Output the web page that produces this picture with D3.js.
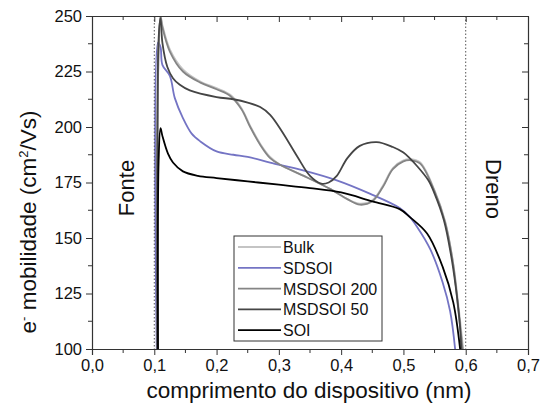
<!DOCTYPE html>
<html>
<head>
<meta charset="utf-8">
<script src="https://cdn.jsdelivr.net/npm/d3@7"></script>
<style>
  body { margin: 0; background: #fff; }
  svg { font-family: "Liberation Sans", Arial, sans-serif; }
</style>
</head>
<body>
<div id="chart"></div>
<script>
/* e- mobility along the device */

const seriesNames = ["Bulk", "SDSOI", "MSDSOI 200", "MSDSOI 50", "SOI"];
const seriesColors = ["#c4c4c4", "#7474c4", "#858585", "#454545", "#000000"];

const xTicks = [0, 0.1, 0.2, 0.3, 0.4, 0.5, 0.6, 0.7];
const yTicks = [100, 125, 150, 175, 200, 225, 250];
const regionLines = [0.1, 0.6];

const bulk = [
  [0.105, 100], [0.107, 236], [0.110, 250], [0.113, 246], [0.125, 235], [0.146, 226],
  [0.174, 220.5], [0.2, 217.5], [0.222, 214.5], [0.24, 208.5], [0.254, 200.5], [0.27, 192.5],
  [0.286, 186.5], [0.302, 183], [0.34, 178], [0.383, 172], [0.41, 167.5], [0.43, 165.5],
  [0.45, 167], [0.467, 173.5], [0.483, 181.5], [0.5, 185], [0.512, 185.5], [0.527, 184],
  [0.55, 171.5], [0.567, 157.5], [0.58, 138.5], [0.589, 118], [0.596, 100]
];
const sdsoi = [
  [0.104, 100], [0.106, 238], [0.110, 236], [0.113, 228], [0.125, 223], [0.133, 213],
  [0.146, 204], [0.16, 197], [0.174, 193.5], [0.2, 189], [0.227, 187.5], [0.25, 186.5],
  [0.286, 184], [0.339, 180.5], [0.393, 176], [0.446, 170], [0.494, 163.5], [0.51, 159.5],
  [0.522, 155], [0.543, 145], [0.563, 130], [0.575, 117], [0.583, 100]
];
const msdsoi200 = [
  [0.105, 100], [0.107, 235], [0.110, 250], [0.113, 245], [0.125, 234], [0.146, 225],
  [0.174, 220], [0.2, 217], [0.222, 214], [0.24, 208], [0.254, 200], [0.27, 192],
  [0.286, 186], [0.302, 183], [0.34, 178], [0.383, 172], [0.41, 167.5], [0.43, 165],
  [0.45, 166.5], [0.467, 173], [0.483, 181], [0.5, 184.5], [0.512, 185], [0.527, 183.5],
  [0.55, 171], [0.567, 157], [0.58, 138], [0.588, 118], [0.595, 100]
];
const msdsoi50 = [
  [0.105, 100], [0.107, 240], [0.110, 249], [0.113, 238], [0.121, 227], [0.130, 222],
  [0.141, 219], [0.157, 216.5], [0.2, 213.5], [0.227, 212.5], [0.25, 211], [0.27, 209],
  [0.286, 205.5], [0.305, 198], [0.33, 186.5], [0.35, 178], [0.368, 174.5], [0.38, 175],
  [0.393, 178], [0.41, 186], [0.43, 191.5], [0.457, 193.2], [0.483, 191], [0.5, 188.5],
  [0.51, 186], [0.52, 183], [0.54, 176], [0.55, 170], [0.565, 158], [0.576, 143],
  [0.584, 128], [0.59, 113], [0.593, 100]
];
const soi = [
  [0.106, 100], [0.107, 185], [0.110, 199.5], [0.113, 196], [0.122, 188], [0.13, 184],
  [0.146, 180], [0.17, 178], [0.2, 177], [0.25, 175.5], [0.3, 174], [0.35, 172.5],
  [0.4, 170.5], [0.45, 166.5], [0.494, 163], [0.51, 159.5], [0.538, 152], [0.563, 137],
  [0.58, 121], [0.591, 100]
];
const seriesData = [bulk, sdsoi, msdsoi200, msdsoi50, soi];

const width = 541, height = 409,
      margin = ({ top: 16, right: 13, bottom: 60, left: 92 });

const svg = d3.select("#chart")
    .append("svg")
    .attr("width", width)
    .attr("height", height)
    .attr("viewBox", [0, 0, width, height]);

const x = d3.scaleLinear()
    .domain([0, 0.7])
    .range([margin.left, width - margin.right]);

const y = d3.scaleLinear()
    .domain([100, 250])
    .range([height - margin.bottom, margin.top]);

const fmt = d => d3.format(".1f")(d).replace(".", ",");
const xMinor = d3.range(0.05, 0.7, 0.1);
const yMinor = d3.range(112.5, 250, 25);

// plot curves first, frame on top
svg.append("clipPath").attr("id", "clip")
    .append("rect")
    .attr("x", x(0)).attr("y", y(250))
    .attr("width", x(0.7) - x(0)).attr("height", y(100) - y(250));

const line = d3.line()
    .x(d => x(d[0]))
    .y(d => y(d[1]))
    .curve(d3.curveCatmullRom.alpha(0.5));

svg.append("g")
    .attr("clip-path", "url(#clip)")
    .selectAll("path")
    .data(seriesData)
    .join("path")
    .attr("fill", "none")
    .attr("stroke", (d, i) => seriesColors[i])
    .attr("stroke-width", 1.8)
    .attr("stroke-linejoin", "round")
    .attr("d", line);

// dotted region lines
svg.append("g")
    .selectAll("line")
    .data(regionLines)
    .join("line")
    .attr("x1", d => x(d)).attr("x2", d => x(d))
    .attr("y1", y(250)).attr("y2", y(100))
    .attr("stroke", "#555")
    .attr("stroke-width", 1)
    .attr("stroke-dasharray", "1.5,2");

// axes
const axisColor = "#333";
const xAxis = g => g
    .attr("transform", `translate(0, ${height - margin.bottom})`)
    .call(d3.axisBottom(x).tickValues(xTicks).tickFormat(fmt).tickSize(6).tickPadding(4))
    .call(g => g.selectAll(".minor").data(xMinor).join("line").attr("class", "minor")
        .attr("x1", d => x(d)).attr("x2", d => x(d)).attr("y1", 0).attr("y2", 4)
        .attr("stroke", axisColor));

const yAxis = g => g
    .attr("transform", `translate(${margin.left}, 0)`)
    .call(d3.axisLeft(y).tickValues(yTicks).tickSize(6).tickPadding(4))
    .call(g => g.selectAll(".minor").data(yMinor).join("line").attr("class", "minor")
        .attr("y1", d => y(d)).attr("y2", d => y(d)).attr("x1", 0).attr("x2", -4)
        .attr("stroke", axisColor));

const xTop = g => g
    .attr("transform", `translate(0, ${margin.top})`)
    .call(d3.axisBottom(x).tickValues(xTicks).tickFormat("").tickSize(6).tickSizeOuter(0))
    .call(g => g.selectAll(".minor").data(xMinor).join("line").attr("class", "minor")
        .attr("x1", d => x(d)).attr("x2", d => x(d)).attr("y1", 0).attr("y2", 4)
        .attr("stroke", axisColor));

const yRight = g => g
    .attr("transform", `translate(${width - margin.right}, 0)`)
    .call(d3.axisLeft(y).tickValues(yTicks).tickFormat("").tickSize(6).tickSizeOuter(0))
    .call(g => g.selectAll(".minor").data(yMinor).join("line").attr("class", "minor")
        .attr("y1", d => y(d)).attr("y2", d => y(d)).attr("x1", 0).attr("x2", -4)
        .attr("stroke", axisColor));

for (const ax of [xAxis, yAxis, xTop, yRight]) {
    const g = svg.append("g").call(ax);
    g.selectAll(".domain").attr("stroke", axisColor).attr("stroke-width", 1.2);
    g.selectAll(".tick line").attr("stroke", axisColor);
    g.selectAll(".tick text").attr("fill", "#111").style("font-size", "16.5px")
        .style("font-family", "'Liberation Sans', Arial, sans-serif");
}

// region labels
svg.append("text")
    .attr("transform", `translate(${x(0.055) + 8}, 188) rotate(-90)`)
    .attr("text-anchor", "middle")
    .style("font-size", "22px")
    .attr("fill", "#111")
    .text("Fonte");

svg.append("text")
    .attr("transform", `translate(${x(0.645) - 8}, 189) rotate(90)`)
    .attr("text-anchor", "middle")
    .style("font-size", "22px")
    .attr("fill", "#111")
    .text("Dreno");

// axis titles
const yTitle = svg.append("text")
    .attr("transform", `translate(36, 222) rotate(-90)`)
    .attr("text-anchor", "middle")
    .style("font-size", "22.5px")
    .attr("fill", "#111");
yTitle.append("tspan").text("e");
yTitle.append("tspan").attr("dy", -8).style("font-size", "13px").text("-");
yTitle.append("tspan").attr("dy", 8).text(" mobilidade (cm");
yTitle.append("tspan").attr("dy", -8).style("font-size", "13px").text("2");
yTitle.append("tspan").attr("dy", 8).text("/Vs)");

svg.append("text")
    .attr("x", 309)
    .attr("y", 398)
    .attr("text-anchor", "middle")
    .style("font-size", "22.5px")
    .attr("fill", "#111")
    .text("comprimento do dispositivo (nm)");

// legend
const legend = svg.append("g").attr("transform", "translate(234, 236)");
legend.append("rect")
    .attr("width", 148).attr("height", 105)
    .attr("fill", "#fff")
    .attr("stroke", "#333").attr("stroke-width", 1);

const item = legend.selectAll(".item")
    .data(seriesNames)
    .join("g")
    .attr("class", "item")
    .attr("transform", (d, i) => `translate(0, ${11 + i * 20.8})`);

item.append("line")
    .attr("x1", 4).attr("x2", 47)
    .attr("stroke", (d, i) => seriesColors[i])
    .attr("stroke-width", 1.8);

item.append("text")
    .attr("x", 49).attr("y", 6)
    .style("font-size", "16px")
    .attr("fill", "#111")
    .text(d => d);
</script>
</body>
</html>
